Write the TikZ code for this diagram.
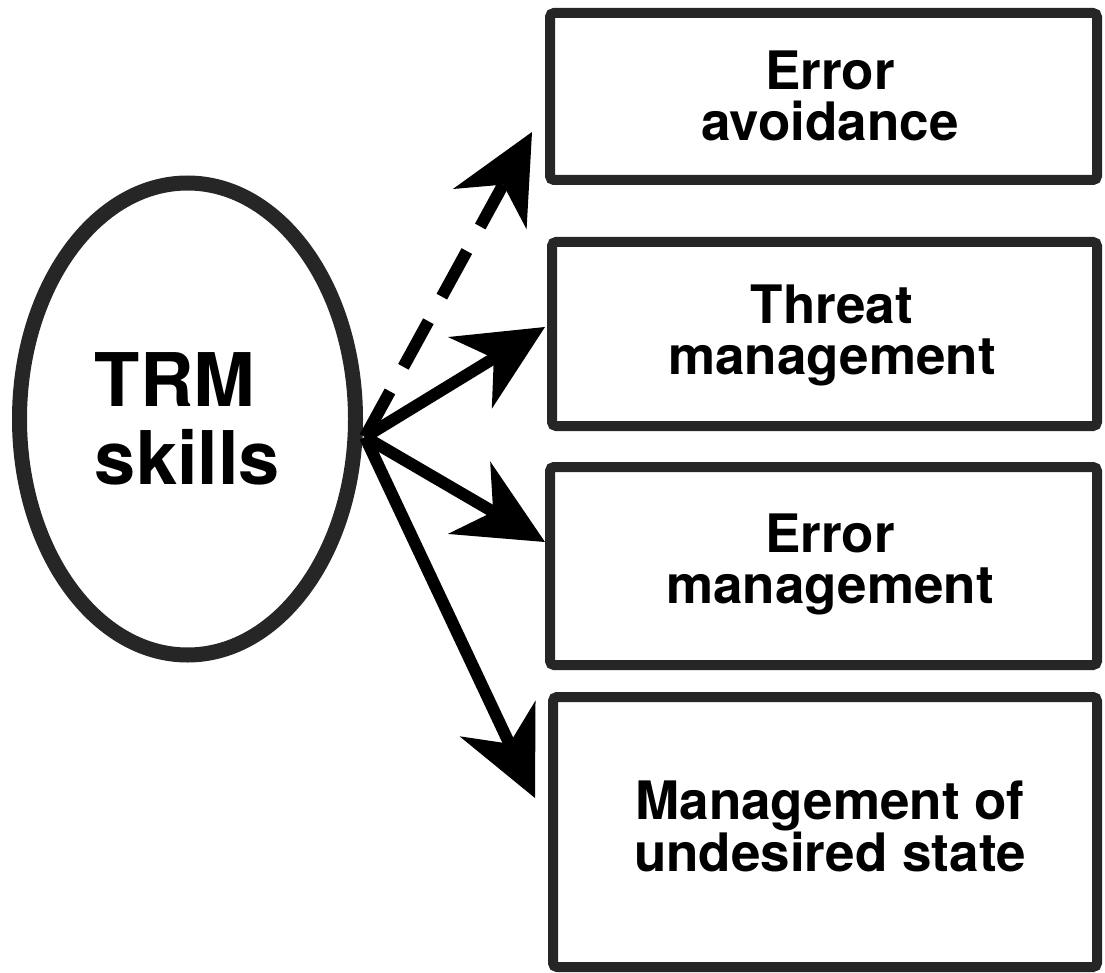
\documentclass[tikz,border=0pt]{standalone}
\usepackage{fontspec}
\setmainfont{TeX Gyre Heros}
\usetikzlibrary{arrows.meta,shapes.geometric}
\begin{document}
\begin{tikzpicture}[x=1pt,y=-1pt,
  boxstyle/.style={draw=black!85,line width=10pt,rounded corners=4pt,rectangle,inner sep=0pt},
  lbl/.style={align=center,font=\fontsize{53}{51}\selectfont\bfseries,inner sep=0pt},
  arr/.style={line width=12pt,-{Stealth[length=88pt,width=84pt,inset=28pt,line width=0pt]}},
  dasharr/.style={arr,dash pattern=on 52pt off 28pt},
]
\path[use as bounding box] (0,0) rectangle (1105,973);

% ellipse
\node[ellipse,draw=black!85,line width=15pt,minimum width=336pt,minimum height=472pt,inner sep=0pt,
      align=left,font=\fontsize{74}{78}\selectfont\bfseries] (trm) at (187.5,419) {TRM\\skills};

% boxes
\node[boxstyle,minimum width=547pt,minimum height=167pt] (b1) at (823.5,96.5) {};
\node[boxstyle,minimum width=545pt,minimum height=184pt] (b2) at (824.5,334) {};
\node[boxstyle,minimum width=547pt,minimum height=198pt] (b3) at (823.5,566) {};
\node[boxstyle,minimum width=544pt,minimum height=270pt] (b4) at (825,832) {};

% labels
\node[lbl] (l1) at (830,96) {Error\\avoidance};
\node[lbl] (l2) at (832,335) {Threat\\management};
\node[lbl] (l3) at (830,564) {Error\\management};
\node[lbl] (l4) at (830,826) {Management of\\undesired state};

% connectors
\coordinate (hub) at (365,437);
\coordinate (t1) at (532,132);
\coordinate (t2) at (545,327);
\coordinate (t3) at (545,542);
\coordinate (t4) at (535,798);
\draw[dasharr] (hub) -- (t1);
\draw[arr] (hub) -- (t2);
\draw[arr] (hub) -- (t3);
\draw[arr] (hub) -- (t4);
\end{tikzpicture}
\end{document}
